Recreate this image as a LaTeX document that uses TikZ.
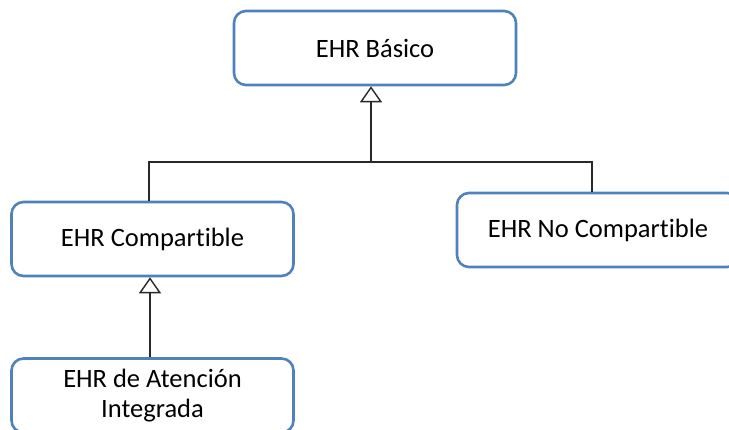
\documentclass[tikz,border=0pt]{standalone}
\usepackage{fontspec}
\setmainfont{Carlito}[Ligatures=NoCommon]
\usetikzlibrary{arrows.meta}
\definecolor{boxblue}{RGB}{79,129,189}
\definecolor{linegray}{RGB}{40,40,40}
\begin{document}
\begin{tikzpicture}[x=1pt,y=-1pt,
  classbox/.style={draw=boxblue, line width=2.6pt, rounded corners=12pt, fill=white,
    minimum width=#1, minimum height=74pt, inner sep=0pt, align=center,
    font=\fontsize{26.5}{30}\selectfont},
  classbox/.default=282pt,
  link/.style={draw=linegray, line width=1.6pt},
  inherit/.style={link, -{Triangle[open, width=22pt, length=16pt, line width=1.4pt]}}]
\useasboundingbox (0,0) rectangle (729,429);
\clip (0,0) rectangle (729,429);
\fill[white] (0,0) rectangle (729,429);

% classes
\node[classbox] (bas) at (375,48) {EHR Básico};
\node[classbox] (cmp) at (152.5,239) {EHR Compartible};
\node[classbox] (ncp) at (598,230) {EHR No Compartible};
\node[classbox] (ati) at (152.5,395.5) {EHR de Atención\\Integrada};

% generalisation tree
\coordinate (j) at (371,162);
\draw[inherit] (j) -- (bas.south -| j);
\draw[link] ([xshift=-3.5pt]cmp.north) |- (j) -| ([xshift=-6pt]ncp.north);
\draw[inherit] ([xshift=-2.5pt]ati.north) -- ([xshift=-2.5pt]cmp.south);
\end{tikzpicture}
\end{document}
